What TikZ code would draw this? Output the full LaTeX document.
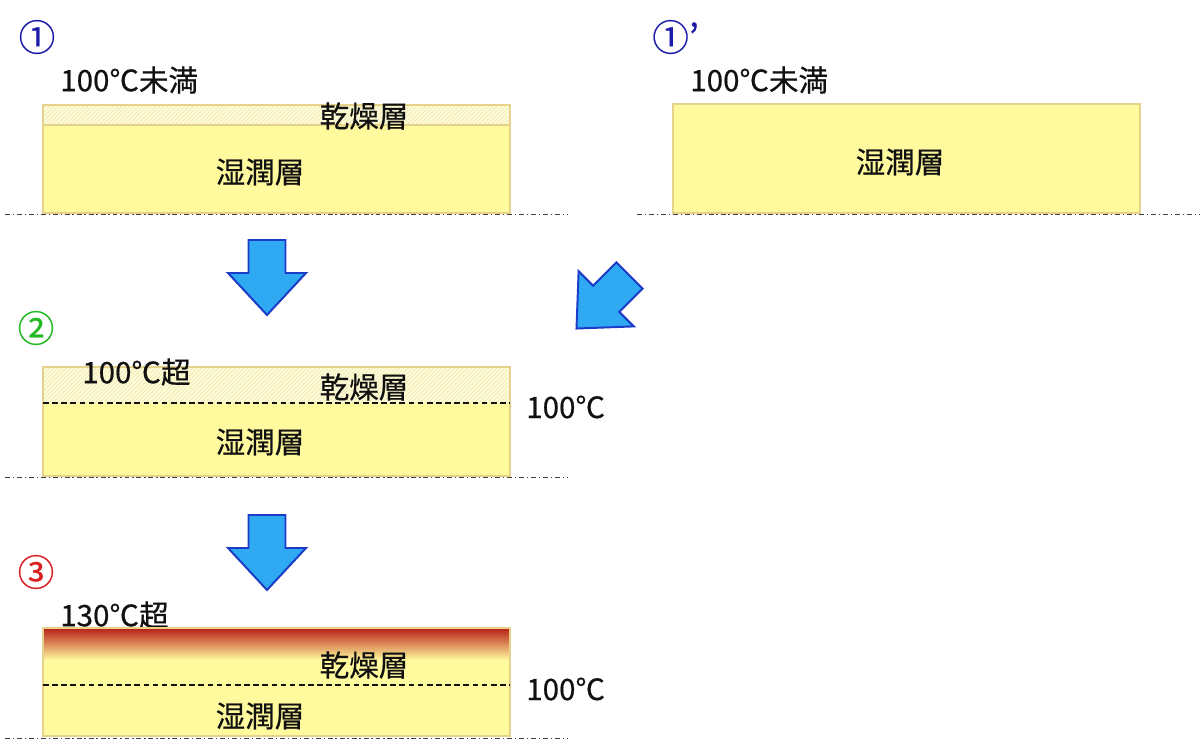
\documentclass[tikz,border=0pt]{standalone}
\usepackage{fontspec}
\setmainfont{Noto Sans CJK JP}[FakeBold=0.6]
\usetikzlibrary{patterns, positioning}
\definecolor{Paper}     {HTML}{FFFA9E}
\definecolor{PaperEdge} {HTML}{E6D28A}
\definecolor{HatchBg}   {HTML}{FFFCD8}
\definecolor{HatchLine} {HTML}{EDE5B2}
\definecolor{Scorch}    {HTML}{B81E16}
\definecolor{Ember}     {HTML}{E8823E}
\definecolor{ArrowFill} {HTML}{2FA9F2}
\definecolor{ArrowEdge} {HTML}{1C3BC6}
\definecolor{StepBlue}  {HTML}{1C1CA8}
\definecolor{StepGreen} {HTML}{22B822}
\definecolor{StepRed}   {HTML}{D82020}
\definecolor{Ink}       {HTML}{111111}

\tikzset{
  layertext/.style={inner sep=0pt, text=Ink, font=\fontsize{21pt}{25pt}\selectfont},
  stepmark/.style={inner sep=0pt, font=\fontsize{26pt}{28pt}\selectfont},
  sheetedge/.style={draw=PaperEdge, line width=1.4pt},
  groundline/.style={Ink!80, line width=0.7pt, dash pattern=on 3.5pt off 2pt on 1pt off 2pt},
  frontline/.style={Ink, line width=0.8pt, dash pattern=on 4pt off 2.5pt},
  flowarrow/.pic={
    \draw[ArrowEdge, fill=ArrowFill, line width=1.4pt, line join=miter]
      (-18.5,-37.5) -- (18.5,-37.5) -- (18.5,-4.5) -- (39,-4.5) -- (0,37.5)
      -- (-39,-4.5) -- (-18.5,-4.5) -- cycle;
  }
}

\begin{document}
\begin{tikzpicture}[x=0.025cm, y=-0.025cm]
  \useasboundingbox (0,0) rectangle (1200,751);

  % Step 1 : thin dry crust
  \node[stepmark, text=StepBlue] (s1) at (37,37) {①};
  \node[layertext, anchor=west] (t1) at (60,80) {100℃未満};
  \fill[Paper] (43,105) rectangle (510,213);
  \fill[HatchBg] (43,105) rectangle (510,125);
  \fill[pattern=north east lines, pattern color=HatchLine] (43,105) rectangle (510,125);
  \draw[PaperEdge, line width=1.4pt] (43,125) -- (510,125);
  \draw[sheetedge] (43,105) rectangle (510,213);
  \node[layertext] (dry1) at (364,116) {乾燥層};
  \node[layertext] (wet1) at (260,172) {湿潤層};
  \draw[groundline] (5,214) -- (567,214);

  % Step 1' : wet only
  \node[stepmark, text=StepBlue, anchor=west] (s1b) at (652,37) {①’};
  \node[layertext, anchor=west] (t1b) at (690,80) {100℃未満};
  \fill[Paper] (673,104) rectangle (1140,213);
  \draw[sheetedge] (673,104) rectangle (1140,213);
  \node[layertext] (wet1b) at (900,162) {湿潤層};
  \draw[groundline] (637,214) -- (1200,214);

  % Transitions
  \pic at (267,277.5) {flowarrow};
  \pic[rotate=-45] at (603,302) {flowarrow};
  \pic at (267,552.5) {flowarrow};

  % Step 2 : front below 100 C
  \node[stepmark, text=StepGreen] (s2) at (36,328) {②};
  \fill[Paper] (43,367) rectangle (510,476);
  \fill[HatchBg] (43,367) rectangle (510,403);
  \fill[pattern=north east lines, pattern color=HatchLine] (43,367) rectangle (510,403);
  \draw[sheetedge] (43,367) rectangle (510,476);
  \draw[frontline] (43,403) -- (510,403);
  \node[layertext, anchor=west] (t2) at (82,372) {100℃超};
  \node[layertext] (dry2) at (364,387) {乾燥層};
  \node[layertext] (wet2) at (260,442) {湿潤層};
  \node[layertext, anchor=west] (f2) at (526,407) {100℃};
  \draw[groundline] (5,477) -- (567,477);

  % Step 3 : scorched surface
  \node[stepmark, text=StepRed] (s3) at (36,572) {③};
  \node[layertext, anchor=west] (t3) at (60,615) {130℃超};
  \fill[Paper] (43,628) rectangle (510,736);
  \shade[top color=Scorch, middle color=Ember, bottom color=Paper] (43,628) rectangle (510,660);
  \draw[sheetedge] (43,628) rectangle (510,736);
  \draw[frontline] (43,685) -- (510,685);
  \node[layertext] (dry3) at (364,665) {乾燥層};
  \node[layertext] (wet3) at (260,716) {湿潤層};
  \node[layertext, anchor=west] (f3) at (526,689) {100℃};
  \draw[groundline] (5,738) -- (567,738);
\end{tikzpicture}
\end{document}
